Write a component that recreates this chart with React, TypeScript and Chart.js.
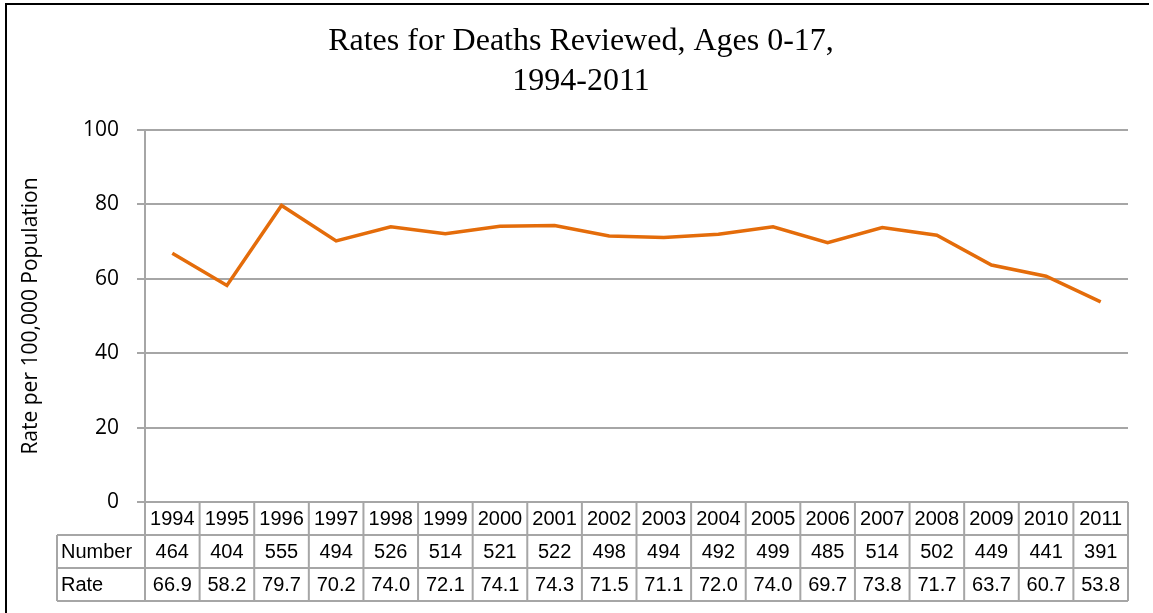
import React, { useEffect, useRef } from "react";
import { Chart, registerables } from "chart.js";

Chart.register(...registerables);

// ---- data ----
const years = ["1994", "1995", "1996", "1997", "1998", "1999", "2000", "2001", "2002", "2003", "2004", "2005", "2006", "2007", "2008", "2009", "2010", "2011"];
const deathNumbers = [464, 404, 555, 494, 526, 514, 521, 522, 498, 494, 492, 499, 485, 514, 502, 449, 441, 391];
const deathRates = [66.9, 58.2, 79.7, 70.2, 74.0, 72.1, 74.1, 74.3, 71.5, 71.1, 72.0, 74.0, 69.7, 73.8, 71.7, 63.7, 60.7, 53.8];
const tableRowLabels = ["Number", "Rate"];
const titleLines = ["Rates for Deaths Reviewed, Ages 0-17,", "1994-2011"];
const yAxisTitle = "Rate per 100,000 Population";
const yMin = 0;
const yMax = 100;
const yStep = 20;

// ---- styles ----
const LINE_COLOR = "#E46C0A";
const GRID_COLOR = "#A6A6A6";
const TABLE_ROW_H = 33;
const TABLE_LABEL_LEFT = 57;
const TABLE_FONT = '20px "Liberation Sans", Arial, sans-serif';
const LEFT_PAD = 34;

const framePlugin = {
  id: "frame",
  beforeDraw(chart: any) {
    const { ctx, width, height } = chart;
    ctx.save();
    ctx.fillStyle = "#ffffff";
    ctx.fillRect(0, 0, width, height);
    ctx.strokeStyle = "#000000";
    ctx.lineWidth = 2;
    ctx.beginPath();
    ctx.moveTo(6, height + 2);
    ctx.lineTo(6, 4);
    ctx.lineTo(width - 4, 4);
    ctx.stroke();
    ctx.restore();
  },
};

const tablePlugin = {
  id: "dataTable",
  afterDraw(chart: any) {
    const { ctx, chartArea } = chart;
    const xs = chart.scales.x;
    const n = years.length;
    const centers = years.map((_, i) => xs.getPixelForValue(i));
    const half = (centers[1] - centers[0]) / 2;
    const edges = [centers[0] - half, ...centers.map((c: number) => c + half)];
    const top = chartArea.bottom;
    const h = TABLE_ROW_H;
    const right = edges[n];

    ctx.save();
    ctx.strokeStyle = GRID_COLOR;
    ctx.lineWidth = 2;
    ctx.beginPath();
    ctx.moveTo(edges[0], top);
    ctx.lineTo(right, top);
    for (let r = 1; r <= 3; r++) {
      ctx.moveTo(TABLE_LABEL_LEFT, top + r * h);
      ctx.lineTo(right, top + r * h);
    }
    for (let i = 0; i <= n; i++) {
      ctx.moveTo(edges[i], top);
      ctx.lineTo(edges[i], top + 3 * h);
    }
    ctx.moveTo(TABLE_LABEL_LEFT, top + h);
    ctx.lineTo(TABLE_LABEL_LEFT, top + 3 * h);
    ctx.stroke();

    ctx.fillStyle = "#000000";
    ctx.font = TABLE_FONT;
    ctx.textBaseline = "middle";
    ctx.textAlign = "center";
    for (let i = 0; i < n; i++) {
      ctx.fillText(years[i], centers[i], top + h * 0.5 + 1);
      ctx.fillText(String(deathNumbers[i]), centers[i], top + h * 1.5 + 1);
      ctx.fillText(deathRates[i].toFixed(1), centers[i], top + h * 2.5 + 1);
    }
    ctx.textAlign = "left";
    tableRowLabels.forEach((lbl, r) => {
      ctx.fillText(lbl, TABLE_LABEL_LEFT + 4, top + h * (r + 1.5) + 1);
    });
    ctx.restore();
  },
};

export default function App() {
  const canvasRef = useRef<HTMLCanvasElement | null>(null);

  useEffect(() => {
    document.body.style.margin = "0";
    const canvas = canvasRef.current;
    if (!canvas) return;
    const chart = new Chart(canvas, {
      type: "line",
      data: {
        labels: years,
        datasets: [
          {
            label: "Rate",
            data: deathRates,
            borderColor: LINE_COLOR,
            backgroundColor: LINE_COLOR,
            borderWidth: 3.5,
            pointRadius: 0,
            tension: 0,
            fill: false,
          },
        ],
      },
      options: {
        responsive: false,
        animation: false,
        layout: { padding: { left: LEFT_PAD, right: 25, top: 0, bottom: 111 } },
        plugins: {
          legend: { display: false },
          tooltip: { enabled: false },
          title: {
            display: true,
            text: titleLines,
            color: "#000000",
            font: { family: '"Liberation Serif", "Times New Roman", serif', size: 32, weight: "normal", lineHeight: 1.25 },
            padding: { top: 22, bottom: 28 },
          },
        },
        scales: {
          x: {
            type: "category",
            display: false,
            offset: true,
          },
          y: {
            min: yMin,
            max: yMax,
            afterFit: (s: any) => {
              s.width = 145 - LEFT_PAD;
            },
            ticks: {
              stepSize: yStep,
              color: "#000000",
              padding: 18,
              font: { family: '"Open Sans", sans-serif', size: 21 },
            },
            grid: {
              color: GRID_COLOR,
              lineWidth: 2,
              tickLength: 8,
              drawTicks: true,
            },
            border: { display: true, color: GRID_COLOR, width: 2 },
            title: {
              display: true,
              text: yAxisTitle,
              color: "#000000",
              font: { family: '"Open Sans", sans-serif', size: 21 },
              padding: { top: -16, bottom: 0 },
            },
          },
        },
      },
      plugins: [framePlugin, tablePlugin],
    });
    return () => chart.destroy();
  }, []);

  return (
    <div style={{ width: 1153, height: 613 }}>
      <canvas ref={canvasRef} width={1153} height={613} style={{ display: "block" }} />
    </div>
  );
}
